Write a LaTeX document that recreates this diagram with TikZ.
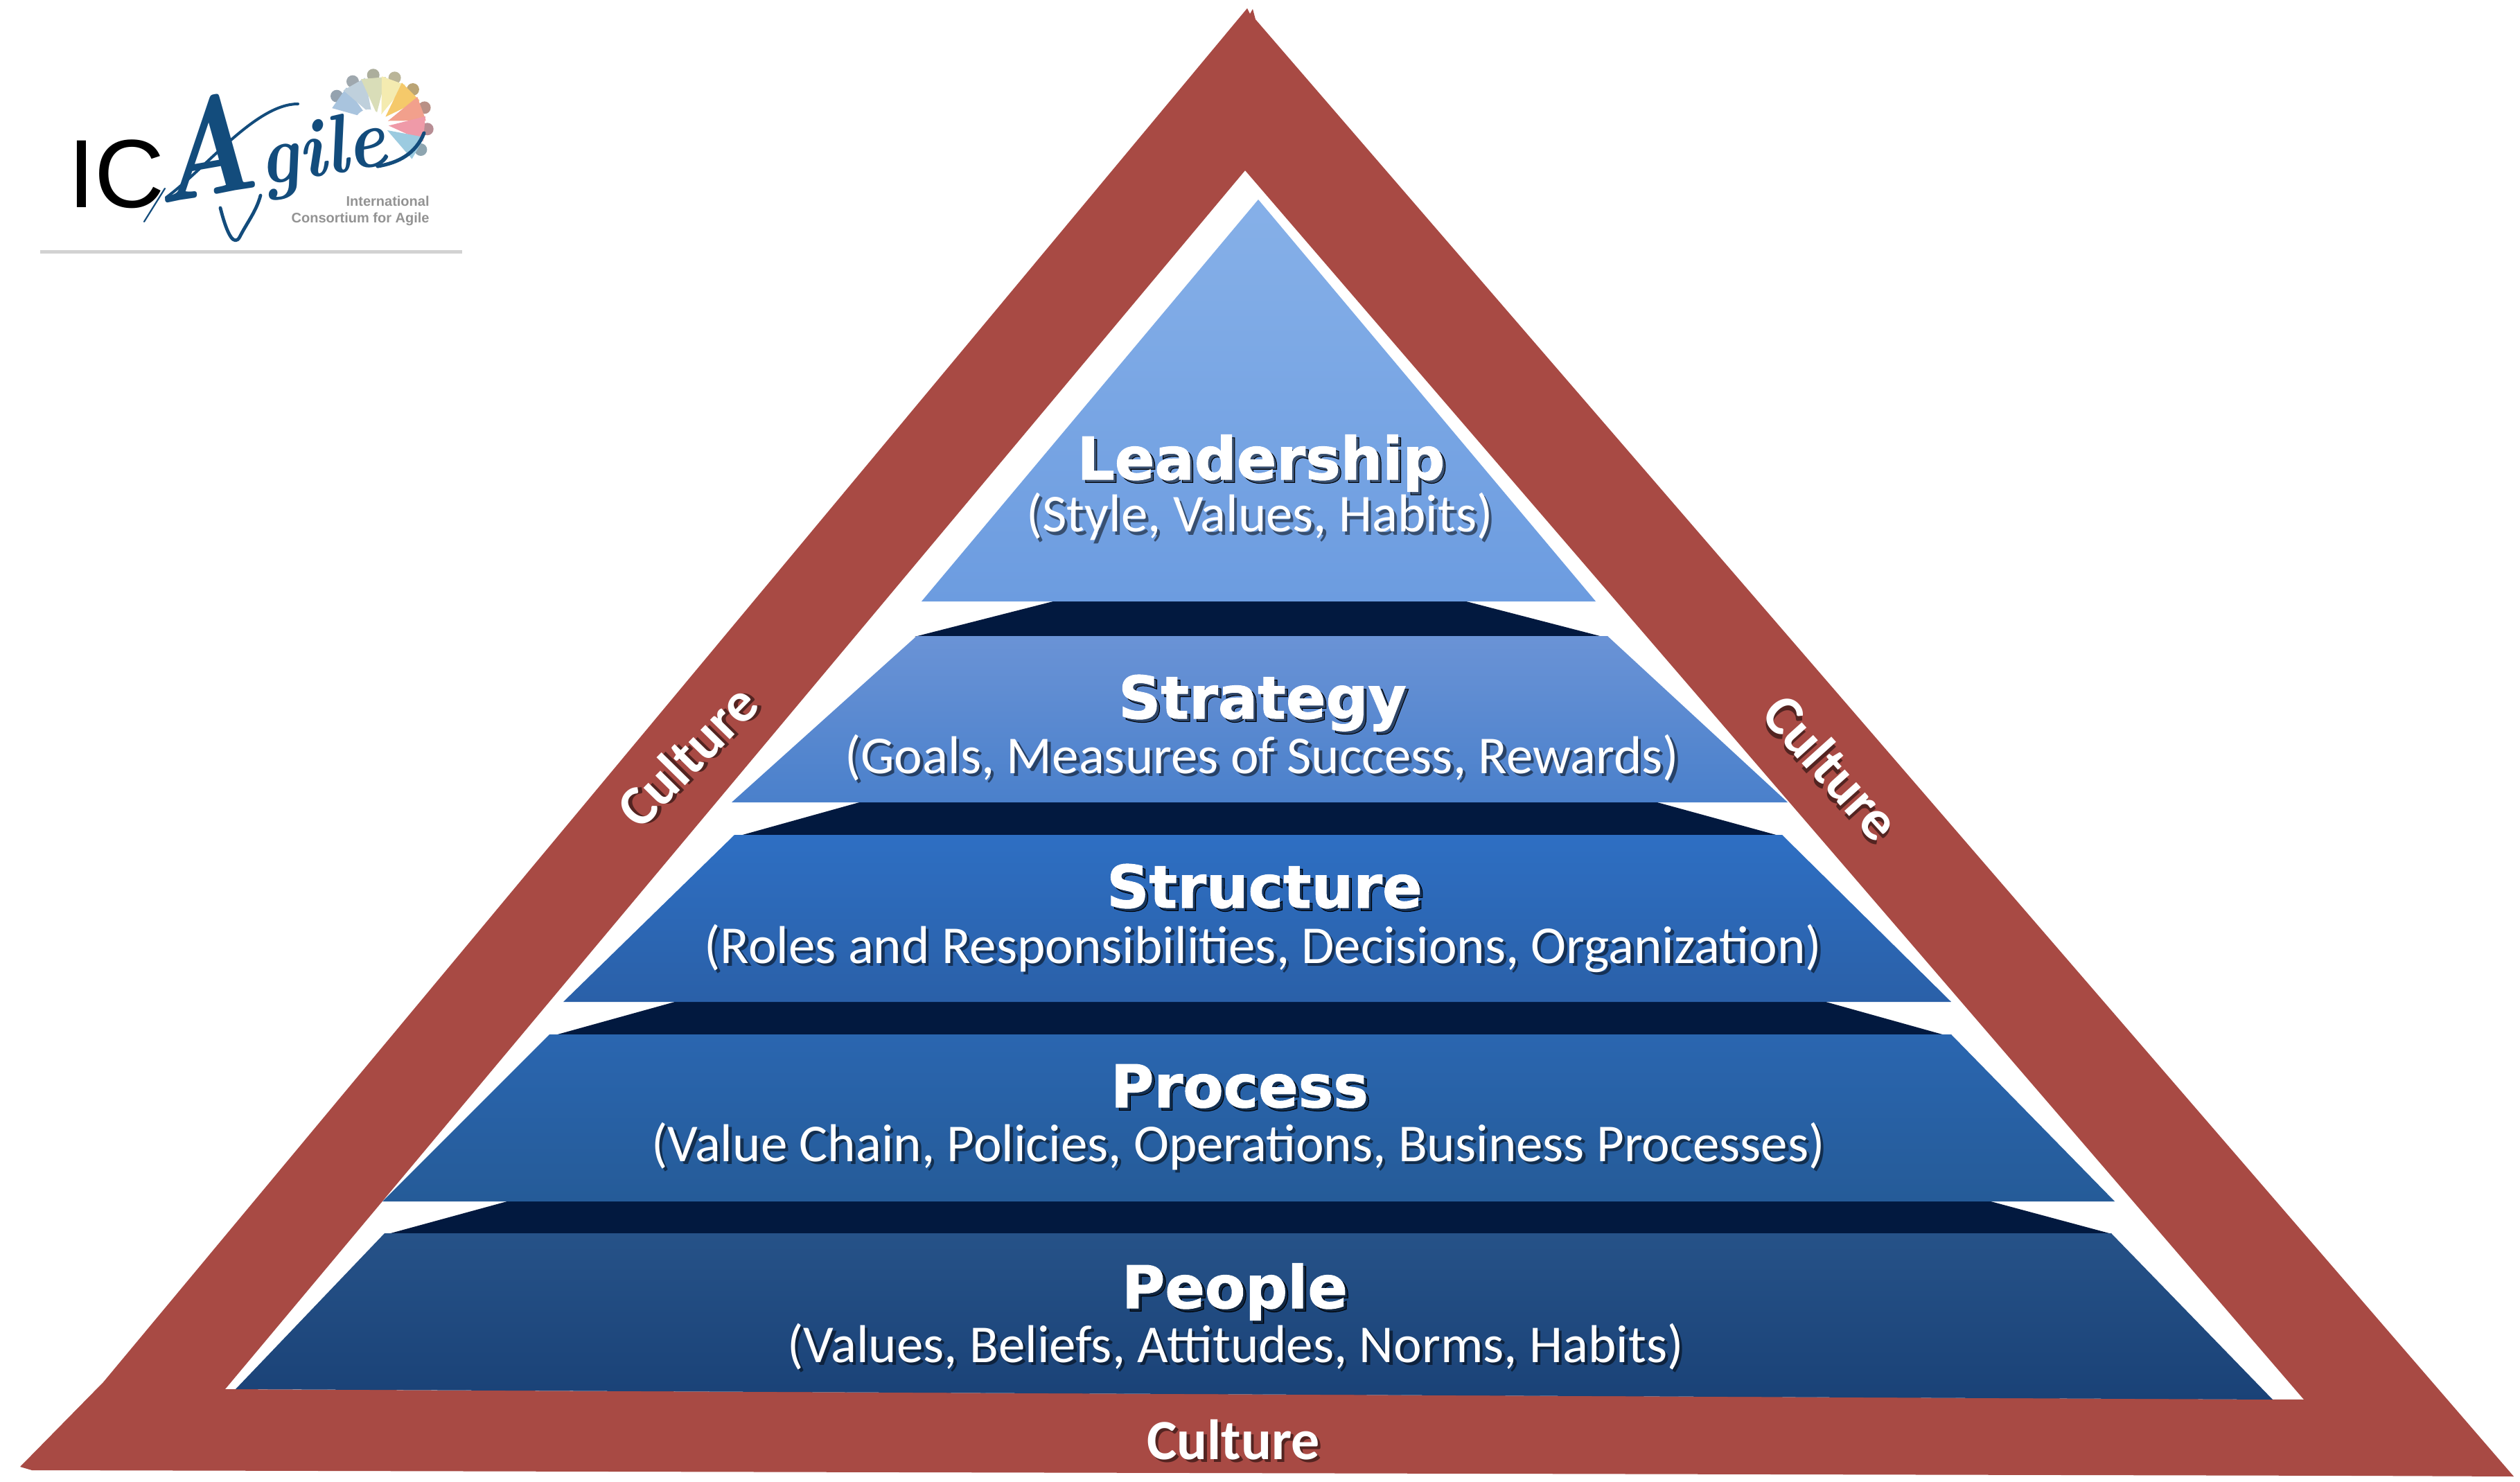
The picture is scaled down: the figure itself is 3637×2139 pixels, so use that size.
\documentclass[tikz,border=0pt]{standalone}
\usepackage{fontspec}
\setmainfont{Latin Modern Roman}
\newfontfamily\titlefont{DejaVu Sans}[BoldFeatures={FakeBold=1.2}]
\newfontfamily\subfont{Carlito}
\newfontfamily\logofont{Liberation Sans}
\newcommand{\shadowtext}[1]{\makebox[0pt][l]{\hspace{2.2pt}\raisebox{-2.2pt}{\pgfsetfillopacity{0.5}\textcolor{black}{#1}\pgfsetfillopacity{1}}}#1}
\definecolor{cultred}{HTML}{A84A44}
\definecolor{bandnavy}{HTML}{02193F}
\definecolor{logonavy}{HTML}{134C7C}
\tikzset{
  titlenode/.style={anchor=base,text=white,inner sep=0pt,font=\titlefont\bfseries\fontsize{42.5}{50}\selectfont},
  subnode/.style={anchor=base,text=white,inner sep=0pt,font=\subfont\fontsize{38.5}{46}\selectfont},
  culturenode/.style={text=white,inner sep=0pt,font=\subfont\bfseries\fontsize{41}{48}\selectfont},
  bandshape/.style={fill=bandnavy},
  swash/.style={draw=logonavy,line cap=round,line join=round},
}
\begin{document}
\begin{tikzpicture}[x=0.5pt,y=-0.5pt]
\useasboundingbox (0,0) rectangle (3637,2139);
\fill[white] (0,0) rectangle (3637,2139);

% culture frame
\fill[cultred,even odd rule]
  (1800,12) -- (1804,20) -- (1808,13) -- (1812,28) -- (3628,2131) -- (3400,2130) -- (46,2122) -- (29,2117) -- (149,1995) -- cycle
  (1797,246) -- (3325,2020) -- (325,2005) -- cycle;

% dark bands
\fill[bandshape] (1520,868) -- (2116,868) -- (2313,919) -- (1320,919) -- cycle;
\fill[bandshape] (1244,1157) -- (2388,1157) -- (2567,1206) -- (1068,1206) -- cycle;
\fill[bandshape] (974,1446) -- (2635,1446) -- (2807,1494) -- (801,1494) -- cycle;
\fill[bandshape] (732,1734) -- (2873,1734) -- (3048,1781) -- (560,1781) -- cycle;

% layers
\shade[top color={rgb,255:red,134;green,176;blue,232},bottom color={rgb,255:red,108;green,156;blue,224}]
  (1816,288) -- (2303,868) -- (1330,868) -- cycle;
\shade[top color={rgb,255:red,106;green,147;blue,214},bottom color={rgb,255:red,74;green,128;blue,203}]
  (1323,918) -- (2320,918) -- (2580,1158) -- (1056,1158) -- cycle;
\shade[top color={rgb,255:red,46;green,111;blue,195},bottom color={rgb,255:red,42;green,96;blue,168}]
  (1060,1205) -- (2572,1205) -- (2816,1446) -- (813,1446) -- cycle;
\shade[top color={rgb,255:red,42;green,102;blue,176},bottom color={rgb,255:red,37;green,91;blue,152}]
  (793,1493) -- (2816,1493) -- (3052,1734) -- (552,1734) -- cycle;
\shade[top color={rgb,255:red,38;green,82;blue,136},bottom color={rgb,255:red,26;green,66;blue,119}]
  (555,1780) -- (3047,1780) -- (3280,2020) -- (340,2005) -- cycle;

% labels
\node[titlenode] (leadT) at (1820,692) {\shadowtext{Leadership}};
\node[subnode]   (leadS) at (1818,768) {\shadowtext{(Style, Values, Habits)}};
\node[titlenode] (stratT) at (1822,1037) {\shadowtext{Strategy}};
\node[subnode]   (stratS) at (1821,1116) {\shadowtext{(Goals, Measures of Success, Rewards)}};
\node[titlenode] (structT) at (1825,1310) {\shadowtext{Structure}};
\node[subnode]   (structS) at (1823,1390) {\shadowtext{(Roles and Responsibilities, Decisions, Organization)}};
\node[titlenode] (procT) at (1789,1598) {\shadowtext{Process}};
\node[subnode]   (procS) at (1787,1676) {\shadowtext{(Value Chain, Policies, Operations, Business Processes)}};
\node[titlenode] (peopT) at (1782,1888) {\shadowtext{People}};
\node[subnode]   (peopS) at (1783,1966) {\shadowtext{(Values, Beliefs, Attitudes, Norms, Habits)}};
\node[culturenode,rotate=45.5] (cultL) at (993,1092) {\shadowtext{Culture}};
\node[culturenode,rotate=-48] (cultR) at (2642,1109) {\shadowtext{Culture}};
\node[culturenode,anchor=base] (cultB) at (1780,2106) {\shadowtext{Culture}};

% logo
\draw[gray!35,line width=2.5pt] (58,364) -- (667,364);
\foreach \t/\c in {145/A9C4DE,120/BFD0DC,95/D9DDB8,70/F4EBB0,45/F5C96A,20/F2A08C,-5/EF9AA8,-30/9CCBE0}{
  \definecolor{wedgecol}{HTML}{\c}
  \fill[gray!50!wedgecol] ({545+72*cos(\t)},{180-72*sin(\t)}) circle[radius=9];
  \fill[wedgecol] ({545+16*cos(\t)},{180-16*sin(\t)})
     -- ({545+70*cos(\t+15)},{180-70*sin(\t+15)})
     -- ({545+70*cos(\t-15)},{180-70*sin(\t-15)}) -- cycle;
}
\fill[white] (532,178) circle[radius=20];
\node[anchor=base,inner sep=0pt,text=black,font=\logofont\fontsize{70}{80}\selectfont] (logoIC) at (168,300) {IC};
\node[anchor=base west,inner sep=0pt,text=logonavy,font=\bfseries\itshape\fontsize{60}{70}\selectfont,rotate=10,xscale=.9] (logoAgile) at (226,296) {{\fontsize{100}{110}\selectfont A}gile};
\draw[swash,line width=1.1pt] (238,272) -- (208,320);
\draw[swash,line width=2.4pt] (318,300) .. controls (328,340) and (338,356) .. (346,342) .. controls (356,322) and (370,305) .. (376,282);
\draw[swash,line width=2pt] (240,285) .. controls (300,240) and (370,150) .. (430,150);
\draw[swash,line width=2.6pt] (545,240) .. controls (575,235) and (600,222) .. (612,192);
\node[anchor=base east,inner sep=0pt,text=gray!85,font=\logofont\bfseries\fontsize{10}{12}\selectfont] (logoL1) at (620,298) {International};
\node[anchor=base east,inner sep=0pt,text=gray!85,font=\logofont\bfseries\fontsize{10}{12}\selectfont] (logoL2) at (620,322) {Consortium for Agile};
\end{tikzpicture}
\end{document}
